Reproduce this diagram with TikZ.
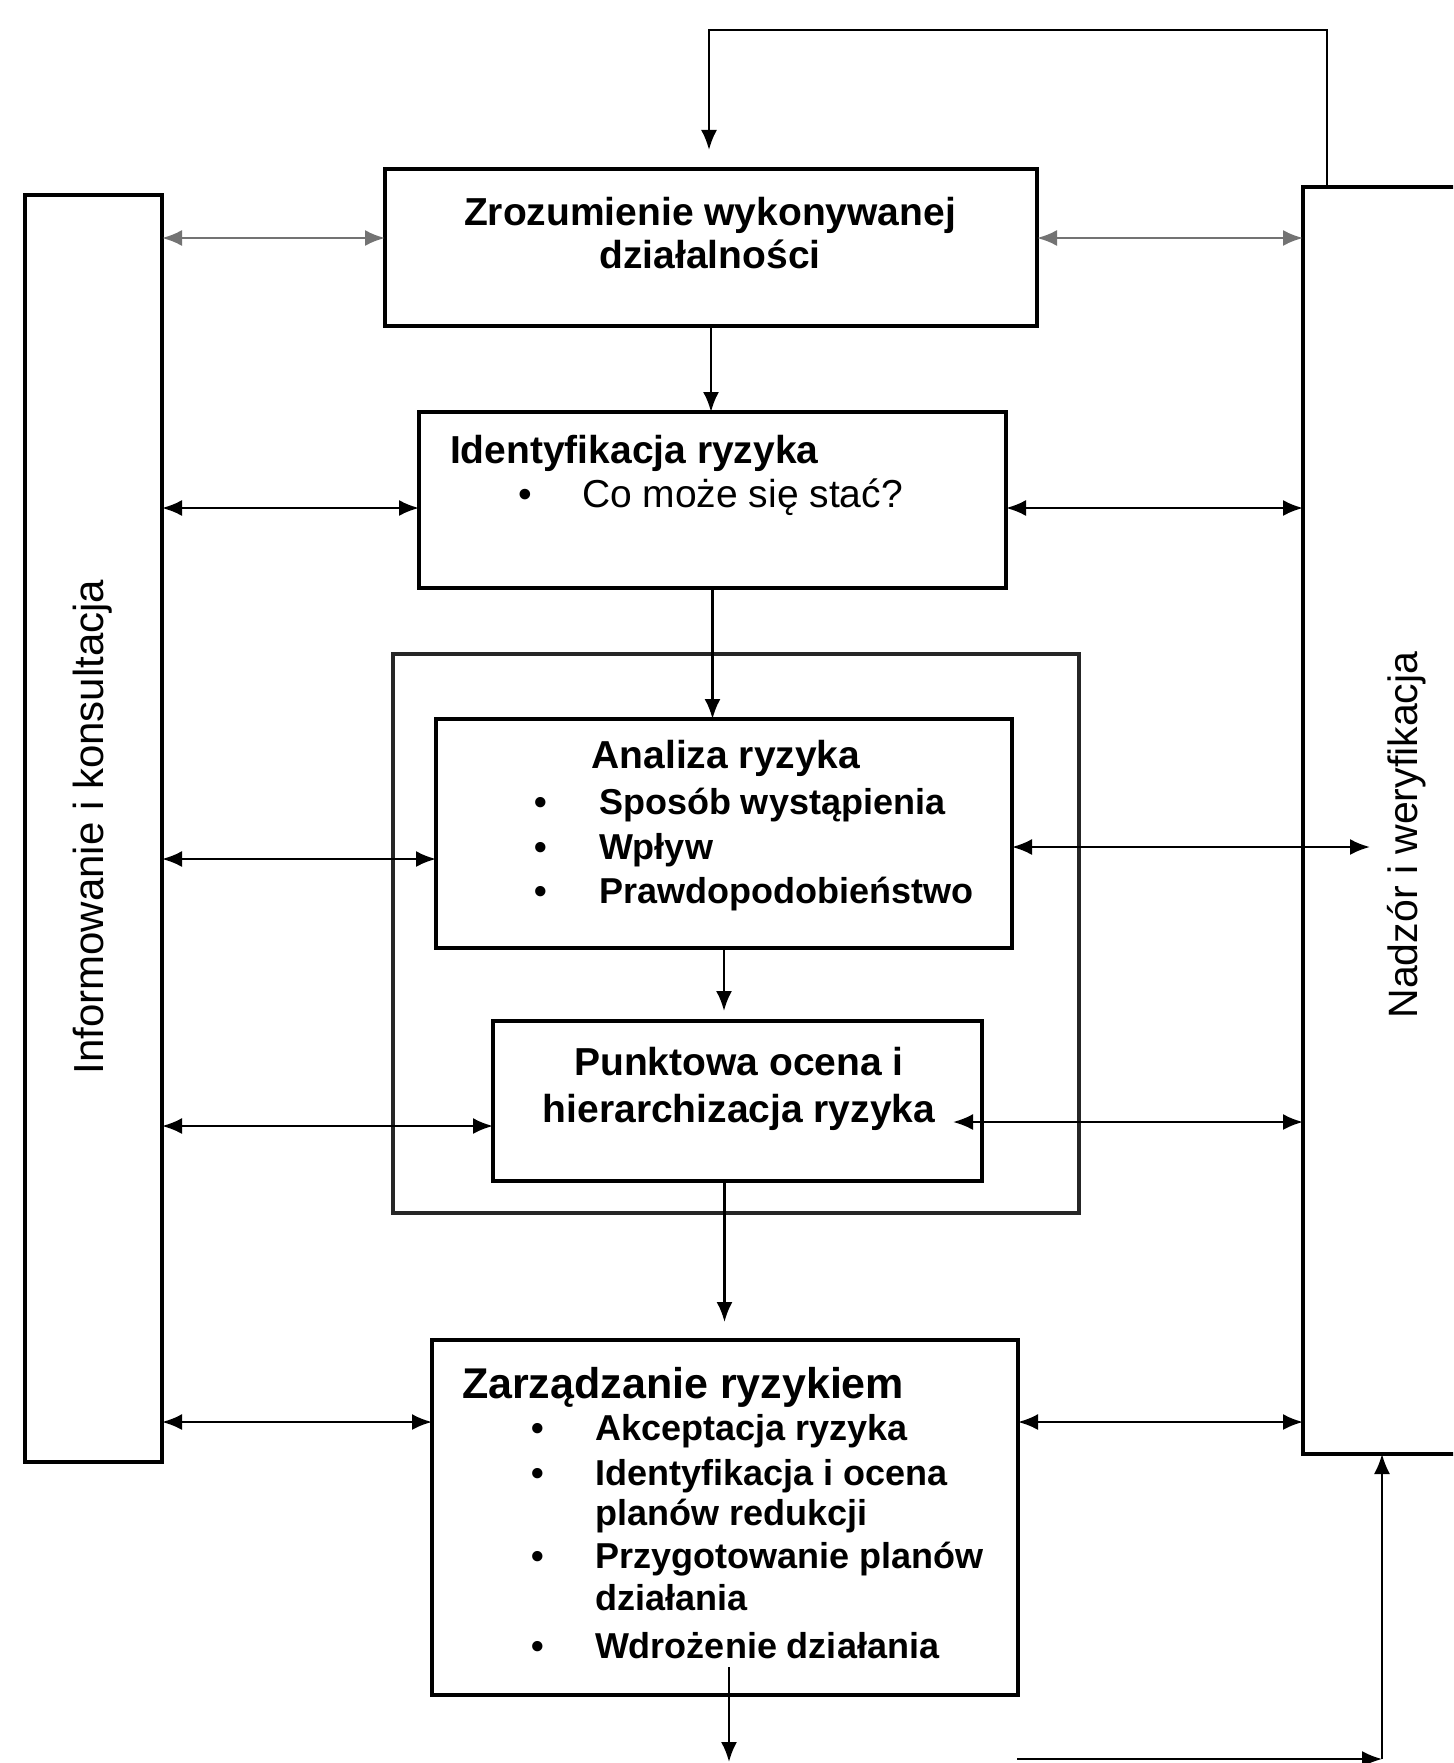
\documentclass[tikz,border=0pt]{standalone}
\usepackage{fontspec}
\setmainfont{Liberation Sans}
\usetikzlibrary{arrows.meta,calc}
\newcommand\mytitlefont{\fontsize{39pt}{43pt}\selectfont\bfseries}
\newcommand\mybigfont{\fontsize{43pt}{47pt}\selectfont\bfseries}
\newcommand\myitemfont{\fontsize{36pt}{40pt}\selectfont\bfseries}
\newcommand\myregfont{\fontsize{39pt}{43pt}\selectfont}
\newcommand\mysidefont{\fontsize{42pt}{46pt}\selectfont}
\begin{document}
\begin{tikzpicture}[x=1pt,y=-1pt,
  box/.style={draw, line width=3.5pt, inner sep=0pt, outer sep=0pt},
  txt/.style={inner sep=0pt, outer sep=0pt, anchor=base west},
  ctxt/.style={inner sep=0pt, outer sep=0pt, anchor=base},
  arr/.style={line width=2.5pt, -{Latex[length=20pt,width=16pt]}},
  dbl/.style={line width=2.5pt, {Latex[length=20pt,width=16pt]}-{Latex[length=20pt,width=16pt]}},
  dblgray/.style={dbl, draw=black!55}]
\clip (0,0) rectangle (1453,1763);

% boxes
\node[box, draw=black!85, minimum width=686pt, minimum height=559pt] (frame) at (736,933.5) {};
\node[box, minimum width=137pt, minimum height=1267pt] (left) at (93.5,828.5) {};
\node[box, minimum width=230pt, minimum height=1267pt] (right) at (1418,820.5) {};
\node[box, minimum width=652pt, minimum height=157pt] (top) at (711,247.5) {};
\node[box, minimum width=587pt, minimum height=176pt] (ident) at (712.5,500) {};
\node[box, minimum width=576pt, minimum height=229pt] (anal) at (724,833.5) {};
\node[box, minimum width=489pt, minimum height=160pt] (punkt) at (737.5,1101) {};
\node[box, minimum width=586pt, minimum height=355pt] (zarz) at (725,1517.5) {};

% side labels
\node[inner sep=0pt, rotate=90] (lefttxt) at (93,827) {\mysidefont Informowanie i konsultacja};
\node[inner sep=0pt, rotate=90] (righttxt) at (1407,835) {\fontsize{41pt}{45pt}\selectfont Nadzór i weryfikacja};

% top box text
\node[ctxt] (topt1) at (710,225) {\mytitlefont Zrozumienie wykonywanej};
\node[ctxt] (topt2) at (710,268) {\mytitlefont działalności};

% identyfikacja
\node[txt] (idt) at (450,463) {\mytitlefont Identyfikacja ryzyka};
\node[ctxt] (idb1) at (525,507) {\myregfont •};
\node[txt] (idi1) at (582,507) {\myregfont Co może się stać?};

% analiza
\node[ctxt] (ant) at (726,768) {\mytitlefont Analiza ryzyka};
\node[ctxt] (anb1) at (541,814) {\myitemfont •};
\node[txt] (ani1) at (599,814) {\myitemfont Sposób wystąpienia};
\node[ctxt] (anb2) at (541,859) {\myitemfont •};
\node[txt] (ani2) at (599,859) {\myitemfont Wpływ};
\node[ctxt] (anb3) at (541,903) {\myitemfont •};
\node[txt] (ani3) at (599,903) {\myitemfont Prawdopodobieństwo};

% punktowa
\node[ctxt] (pt1) at (739,1075) {\mytitlefont Punktowa ocena i};
\node[ctxt] (pt2) at (739,1122) {\mytitlefont hierarchizacja ryzyka};

% zarzadzanie
\node[txt] (zt) at (462,1398) {\mybigfont Zarządzanie ryzykiem};
\node[ctxt] (zb1) at (538,1440) {\myitemfont •};
\node[txt] (zi1) at (595,1440) {\myitemfont Akceptacja ryzyka};
\node[ctxt] (zb2) at (538,1485) {\myitemfont •};
\node[txt] (zi2) at (595,1485) {\myitemfont Identyfikacja i ocena};
\node[txt] (zi2b) at (595,1525) {\myitemfont planów redukcji};
\node[ctxt] (zb3) at (538,1568) {\myitemfont •};
\node[txt] (zi3) at (595,1568) {\myitemfont Przygotowanie planów};
\node[txt] (zi3b) at (595,1610) {\myitemfont działania};
\node[ctxt] (zb4) at (538,1658) {\myitemfont •};
\node[txt] (zi4) at (595,1658) {\myitemfont Wdrożenie działania};

% free coordinates
\coordinate (fbA) at (1327,30);
\coordinate (fbB) at (709,30);
\coordinate (fbC) at (709,150);
\coordinate (a3r) at (1370,847);
\coordinate (p4l) at (953,1122);
\coordinate (zs) at (729,1667);
\coordinate (zbot) at (729,1762);
\coordinate (bl) at (1017,1759);
\coordinate (br) at (1382,1759);

% feedback loop on top
\draw[arr] (right.north -| fbA) -- (fbA) -- (fbB) -- (fbC);

% row 1
\draw[dblgray] ($(left.east|-top.west)+(0,-9.5)$) -- ($(top.west)+(0,-9.5)$);
\draw[dblgray] ($(top.east)+(0,-9.5)$) -- ($(right.west|-top.east)+(0,-9.5)$);
% row 2
\draw[dbl] ($(left.east|-ident.west)+(0,8)$) -- ($(ident.west)+(0,8)$);
\draw[dbl] ($(ident.east)+(0,8)$) -- ($(right.west|-ident.east)+(0,8)$);
% row 3
\draw[dbl] ($(left.east|-anal.west)+(0,25.5)$) -- ($(anal.west)+(0,25.5)$);
\draw[dbl] ($(anal.east)+(0,13.5)$) -- (a3r);
% row 4
\draw[dbl] ($(left.east|-punkt.west)+(0,25)$) -- ($(punkt.west)+(0,25)$);
\draw[dbl] (p4l) -- ($(right.west|-punkt.east)+(0,21)$);
% row 5
\draw[dbl] ($(left.east|-zarz.west)+(0,-95.5)$) -- ($(zarz.west)+(0,-95.5)$);
\draw[dbl] ($(zarz.east)+(0,-95.5)$) -- ($(right.west|-zarz.east)+(0,-95.5)$);

% vertical flow
\draw[arr] (top.south) -- (top.south |- ident.north);
\draw[arr] (ident.south) -- (ident.south |- anal.north);
\draw[arr] (anal.south) -- ($(anal.south |- punkt.north)+(0,-10)$);
\draw[arr] ($(punkt.south)+(-13,0)$) -- ($(punkt.south |- zarz.north)+(-13,-18)$);
\draw[arr] (zs) -- (zbot);
\draw[arr, line width=2pt] (bl) -- (br);
\draw[arr, line width=2pt] (br) -- (br |- right.south);
\end{tikzpicture}
\end{document}
